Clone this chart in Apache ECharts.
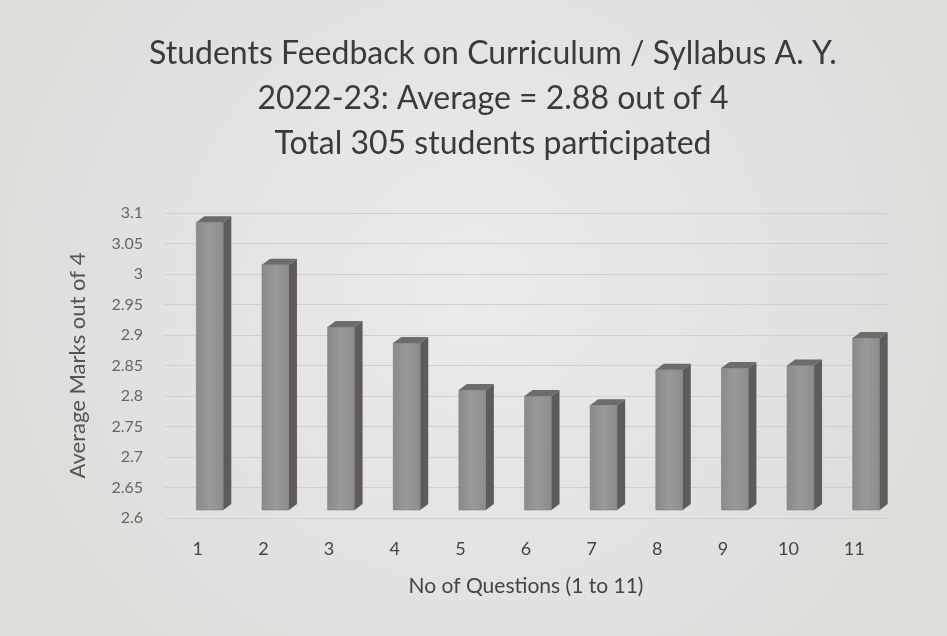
<!DOCTYPE html>
<html><head><meta charset="utf-8">
<script src="https://cdn.jsdelivr.net/npm/echarts@6/dist/echarts.min.js"></script>
<style>html,body{margin:0;padding:0;background:#e4e4e1;}#c{width:947px;height:636px;}</style>
</head><body><div id="c"></div>
<script>
const categories = ['1','2','3','4','5','6','7','8','9','10','11'];
const values = [3.085, 3.015, 2.913, 2.887, 2.81, 2.80, 2.785, 2.843, 2.846, 2.85, 2.895];
const yTicks = [2.6, 3.1, 0.05];

const chart = echarts.init(document.getElementById('c'));
const font = 'Lato, "Open Sans", sans-serif';
chart.setOption({
  backgroundColor: {type:'radial', x:0.5, y:0.45, r:0.8, colorStops:[{offset:0,color:'#ebebea'},{offset:1,color:'#dcdcd9'}]},
  title: {
    text: 'Students Feedback on Curriculum / Syllabus A. Y.\n2022-23: Average = 2.88 out of 4\nTotal 305 students participated',
    left: 488, top: 26, textAlign: 'center',
    textStyle: {fontFamily: font, fontSize: 32, fontWeight: 'normal', color: '#3a3a3a', lineHeight: 45}
  },
  grid: {left: 165, right: 60, top: 213, bottom: 118},
  xAxis: {
    type: 'category', data: categories,
    name: 'No of Questions (1 to 11)', nameLocation: 'middle', nameGap: 58,
    nameTextStyle: {fontFamily: font, fontSize: 21, color: '#444'},
    axisLine: {show: false}, axisTick: {show: false},
    axisLabel: {fontFamily: font, fontSize: 18, color: '#444', margin: 22}
  },
  yAxis: {
    type: 'value', min: yTicks[0], max: yTicks[1], interval: yTicks[2],
    name: 'Average Marks out of 4', nameLocation: 'middle', nameGap: 76,
    nameTextStyle: {fontFamily: font, fontSize: 22, color: '#555'},
    axisLine: {show: false}, axisTick: {show: false},
    axisLabel: {fontFamily: font, fontSize: 16, color: '#666', margin: 22},
    splitLine: {lineStyle: {color: '#d0d0cd', width: 1}}
  },
  series: [{
    type: 'custom',
    data: values.map((v, i) => [i, v]),
    encode: {x: 0, y: 1},
    renderItem: function (params, api) {
      const top = api.coord([api.value(0), api.value(1)]);
      const base = api.coord([api.value(0), yTicks[0]]);
      const w = 27, sx = 8, sy = 6, shift = 12;
      const x0 = top[0] + shift - w / 2, x1 = x0 + w;
      const yt = top[1], yb = base[1] - 8;
      return {
        type: 'group',
        children: [
          {type: 'rect', shape: {x: x0, y: yt, width: w, height: yb - yt},
           style: {fill: {type:'linear', x:0, y:0, x2:1, y2:0, colorStops:[{offset:0,color:'#8a8a89'},{offset:0.5,color:'#9a9999'},{offset:1,color:'#8d8c8c'}]}, stroke: '#7a7a7a', lineWidth: 0.5}},
          {type: 'polygon', shape: {points: [[x1, yt], [x1 + sx, yt - sy], [x1 + sx, yb - sy], [x1, yb]]},
           style: {fill: '#5f5b5b'}},
          {type: 'polygon', shape: {points: [[x0, yt], [x0 + sx, yt - sy], [x1 + sx, yt - sy], [x1, yt]]},
           style: {fill: '#6e6b6b'}}
        ]
      };
    }
  }]
});
</script></body></html>
